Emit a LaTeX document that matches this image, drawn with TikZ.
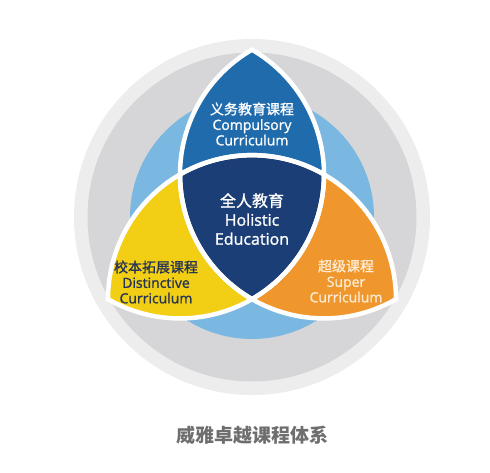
\documentclass[tikz,border=0pt]{standalone}
\usepackage{fontspec}
\setmainfont{Open Sans}
\newfontfamily\latin{Open Sans}[FakeBold=1.2]
\newfontfamily\cjk{Noto Sans CJK SC}[FakeBold=1.1]
\newfontfamily\cjkcap{Noto Sans CJK SC}
\usetikzlibrary{calc}

\definecolor{ringlight}{RGB}{237,237,238}
\definecolor{ringdark}{RGB}{214,214,216}
\definecolor{skyblue}{RGB}{122,184,225}
\definecolor{compblue}{RGB}{31,107,172}
\definecolor{holnavy}{RGB}{27,62,118}
\definecolor{distyellow}{RGB}{242,207,20}
\definecolor{superorange}{RGB}{239,150,45}
\definecolor{disttext}{RGB}{38,52,84}
\definecolor{supertext}{RGB}{253,236,210}
\definecolor{captiongray}{RGB}{110,110,110}

\begin{document}
\begin{tikzpicture}[x=1pt,y=1pt,
outline/.style={draw=white,line width=4.5pt,line join=miter},
sidelabel/.style={align=center,font=\latin\fontsize{14}{15.5}\selectfont},
midlabel/.style={align=center,font=\latin\fontsize{16}{19}\selectfont,text=white}]

\useasboundingbox (0,0) rectangle (490,472);

% background rings
\fill[ringlight] (252,255) circle (178);
\fill[ringdark] (252,255) circle (164.5);
\fill[skyblue] (252,255) circle (122);

% three circles of radius \s, each through the other centres
\def\s{144}
\coordinate (O) at (252,256);
\coordinate (P1) at ($(O)+(150:83.14)$);
\coordinate (P2) at ($(O)+(30:83.14)$);
\coordinate (P3) at ($(O)+(270:83.14)$);
\coordinate (T) at ($(O)+(90:166.28)$);

\def\comppath{(T) arc[start angle=120,end angle=180,radius=\s]
  arc[start angle=120,end angle=60,radius=\s]
  arc[start angle=0,end angle=60,radius=\s] -- cycle}
\def\distpath{(P1) arc[start angle=120,end angle=180,radius=\s]
  arc[start angle=240,end angle=300,radius=\s]
  arc[start angle=240,end angle=180,radius=\s] -- cycle}
\def\superpath{(P3) arc[start angle=240,end angle=300,radius=\s]
  arc[start angle=0,end angle=60,radius=\s]
  arc[start angle=0,end angle=-60,radius=\s] -- cycle}
\def\holpath{(P1) arc[start angle=180,end angle=240,radius=\s]
  arc[start angle=300,end angle=360,radius=\s]
  arc[start angle=60,end angle=120,radius=\s] -- cycle}

\fill[compblue] \comppath;
\fill[distyellow] \distpath;
\fill[superorange] \superpath;
\fill[holnavy] \holpath;

\draw[outline] \comppath;
\draw[outline] \distpath;
\draw[outline] \superpath;
\draw[outline] \holpath;

% labels
\node[sidelabel,text=white] (comp) at (252,348) {{\cjk 义务教育课程}\\Compulsory\\Curriculum};
\node[midlabel] (hol) at (252,253) {{\cjk 全人教育}\\Holistic\\Education};
\node[sidelabel,text=disttext] (dist) at (156,190) {{\cjk 校本拓展课程}\\Distinctive\\Curriculum};
\node[sidelabel,text=supertext] (super) at (346,191) {{\cjk 超级课程}\\Super\\Curriculum};

\node[font=\cjkcap\bfseries\fontsize{19}{22}\selectfont,text=captiongray] (caption) at (252,37) {威雅卓越课程体系};

\end{tikzpicture}
\end{document}
